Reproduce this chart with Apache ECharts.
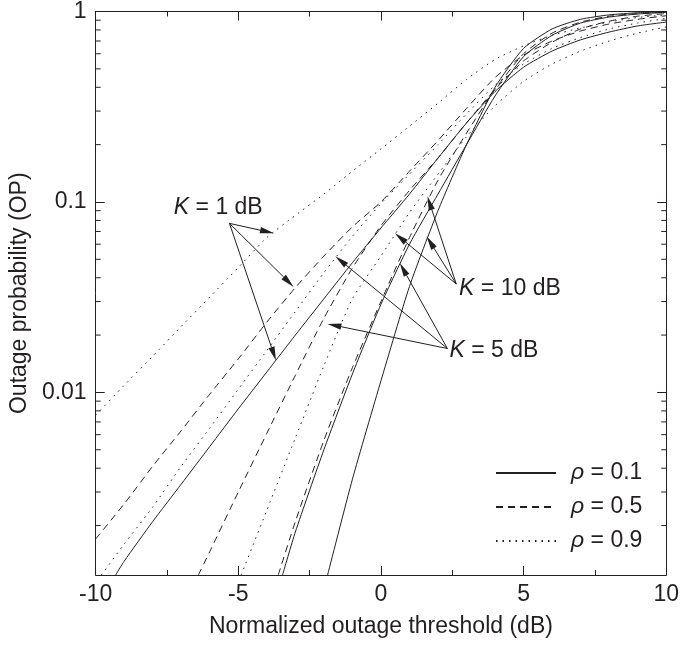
<!DOCTYPE html>
<html>
<head>
<meta charset="utf-8">
<script src="https://cdn.jsdelivr.net/npm/echarts@6/dist/echarts.min.js"></script>
<style>
html, body { margin: 0; padding: 0; background: #fff; }
#main { width: 682px; height: 648px; }
</style>
</head>
<body>
<div id="main"></div>
<script>
"use strict";

// K = 1 dB
var k1r09X = [-10, -9, -8, -7, -6, -5, -4, -3, -2, -1, 0, 1, 2, 3, 4, 5, 6, 7, 8, 9, 10];
var k1r09P = [0.0076, 0.0109, 0.0155, 0.0222, 0.0317, 0.0453, 0.065, 0.085, 0.11, 0.145, 0.19, 0.25, 0.33, 0.44, 0.56, 0.66, 0.75, 0.82, 0.88, 0.93, 0.96];
var k1r05X = [-10, -9, -8, -7, -6, -5, -4, -3, -2, -1, 0, 1, 2, 3, 4, 5, 6, 7, 8, 9, 10];
var k1r05P = [0.0017, 0.0026, 0.0041, 0.0063, 0.0098, 0.015, 0.0234, 0.0355, 0.052, 0.074, 0.10, 0.145, 0.21, 0.31, 0.45, 0.59, 0.70, 0.79, 0.86, 0.91, 0.95];
var k1r01X = [-9.3, -9, -8, -7, -6, -5, -4, -3, -2, -1, 0, 1, 2, 3, 4, 5, 6, 7, 8, 9, 10];
var k1r01P = [0.0011, 0.0013, 0.0021, 0.0033, 0.0052, 0.0082, 0.0128, 0.020, 0.031, 0.048, 0.073, 0.11, 0.17, 0.26, 0.38, 0.51, 0.62, 0.71, 0.78, 0.84, 0.88];
// K = 5 dB
var k5r09X = [-9.8, -9, -8, -7, -6, -5, -4, -3, -2, -1, 0, 1, 2, 3, 4, 5, 6, 7, 8, 9, 10];
var k5r09P = [0.0011, 0.0016, 0.0025, 0.0041, 0.0065, 0.0104, 0.0166, 0.0266, 0.0425, 0.066, 0.098, 0.14, 0.20, 0.29, 0.41, 0.53, 0.64, 0.73, 0.81, 0.87, 0.92];
var k5r05X = [-6.4, -6, -5, -4, -3, -2, -1, 0, 1, 2, 3, 4, 5, 6, 7, 8, 9, 10];
var k5r05P = [0.0011, 0.00146, 0.0030, 0.0061, 0.0123, 0.0245, 0.045, 0.075, 0.115, 0.17, 0.26, 0.39, 0.55, 0.69, 0.81, 0.89, 0.945, 0.975];
var k5r01X = [-3.45, -3, -2, -1, 0, 1, 2, 3, 4, 5, 6, 7, 8, 9, 10];
var k5r01P = [0.0011, 0.00185, 0.0050, 0.0125, 0.029, 0.06, 0.11, 0.20, 0.36, 0.58, 0.75, 0.87, 0.935, 0.97, 0.99];
// K = 10 dB
var k10r09X = [-4.9, -4, -3, -2, -1, 0, 1, 2, 3, 4, 5, 6, 7, 8, 9, 10];
var k10r09P = [0.0011, 0.00241, 0.00577, 0.0138, 0.031, 0.052, 0.088, 0.14, 0.22, 0.32, 0.43, 0.53, 0.62, 0.70, 0.77, 0.83];
var k10r05X = [-3.6, -3, -2, -1, 0, 1, 2, 3, 4, 5, 6, 7, 8, 9, 10];
var k10r05P = [0.0011, 0.0021, 0.0056, 0.0135, 0.030, 0.065, 0.13, 0.23, 0.39, 0.60, 0.77, 0.88, 0.945, 0.975, 0.99];
var k10r01X = [-1.87, -1, 0, 1, 2, 3, 4, 5, 6, 7, 8, 9, 10];
var k10r01P = [0.0011, 0.0035, 0.0115, 0.036, 0.09, 0.20, 0.40, 0.64, 0.81, 0.91, 0.96, 0.985, 0.996];

var legendNames = ["\u03c1 = 0.1", "\u03c1 = 0.5", "\u03c1 = 0.9"];
var yMinor = [0.002, 0.003, 0.004, 0.005, 0.006, 0.007, 0.008, 0.009,
              0.02, 0.03, 0.04, 0.05, 0.06, 0.07, 0.08, 0.09,
              0.2, 0.3, 0.4, 0.5, 0.6, 0.7, 0.8, 0.9];

// annotation arrows: [fromX, fromP, toX, toP]
var arrowLines = [
    [-5.31, 0.0772, -3.75, 0.0685],
    [-5.31, 0.0772, -3.06, 0.0358],
    [-5.31, 0.0772, -3.68, 0.0147],
    [2.33, 0.0170, -1.875, 0.0229],
    [2.33, 0.0170, -1.60, 0.0519],
    [2.33, 0.0170, 0.66, 0.0478],
    [2.64, 0.0371, 0.49, 0.0685],
    [2.64, 0.0371, 1.60, 0.066],
    [2.64, 0.0371, 1.63, 0.107]
];
var noteTexts = ["{i|K} = 1 dB", "{i|K} = 5 dB", "{i|K} = 10 dB"];
var notePos = [[-7.26, 0.0936], [2.40, 0.01656], [2.74, 0.0349]];

var ink = "#231f20";
var fontFamily = "'Liberation Sans', Arial, sans-serif";
var fontSize = 23;
var dashOf = { solid: "solid", dashed: [7, 5], dotted: [1.5, 5] };

function curve(name, xs, ps, dash) {
    return {
        name: name,
        type: "line",
        data: xs.map(function(x, i) { return [x, ps[i]]; }),
        symbol: "none",
        smooth: 0.2,
        silent: true,
        lineStyle: { color: ink, width: 1, type: dashOf[dash] },
        itemStyle: { color: ink },
        z: 3
    };
}

var chart = echarts.init(document.getElementById("main"), null, { renderer: "canvas" });

var axisCommon = {
    axisLine: { show: true, onZero: false, lineStyle: { color: ink, width: 1 } },
    axisTick: { show: true, inside: true, length: 9, lineStyle: { color: ink } },
    splitLine: { show: false }
};

var option = {
    animation: false,
    backgroundColor: "#fff",
    textStyle: { fontFamily: fontFamily },
    grid: { left: 93, right: 13, top: 9, bottom: 73, containLabel: false },
    legend: {
        data: legendNames,
        orient: "vertical",
        left: 495,
        top: 461,
        padding: 0,
        itemWidth: 60,
        itemHeight: 14,
        itemGap: 10,
        selectedMode: false,
        itemStyle: { opacity: 0 },
        formatter: function(name) { return "{i|\u03c1}" + name.slice(1); },
        textStyle: {
            color: ink, fontSize: fontSize, fontFamily: fontFamily, lineHeight: 24, padding: [0, 0, 0, 10],
            rich: { i: { fontStyle: "italic", fontSize: fontSize, fontFamily: fontFamily, color: ink } }
        }
    },
    xAxis: [
        echarts.util.merge({
            type: "value", min: -10, max: 10, interval: 5, position: "bottom",
            name: "Normalized outage threshold (dB)", nameLocation: "middle", nameGap: 40,
            nameTextStyle: { color: ink, fontSize: fontSize, fontFamily: fontFamily },
            axisLabel: { color: ink, fontSize: fontSize, fontFamily: fontFamily, margin: 8 },
            minorTick: { show: true, splitNumber: 2, length: 5, lineStyle: { color: ink } }
        }, axisCommon),
        echarts.util.merge({
            type: "value", min: -10, max: 10, interval: 5, position: "top",
            axisLabel: { show: false },
            minorTick: { show: true, splitNumber: 2, length: 5, lineStyle: { color: ink } }
        }, axisCommon)
    ],
    yAxis: [
        echarts.util.merge({
            type: "log", logBase: 10, min: 0.0011, max: 1, position: "left",
            name: "Outage probability (OP)", nameLocation: "middle", nameGap: 60, nameRotate: 90,
            nameTextStyle: { color: ink, fontSize: fontSize, fontFamily: fontFamily },
            axisLabel: { color: ink, fontSize: fontSize, fontFamily: fontFamily, margin: 9, showMinLabel: false }
        }, axisCommon),
        echarts.util.merge({
            type: "log", logBase: 10, min: 0.0011, max: 1, position: "right",
            axisLabel: { show: false }
        }, axisCommon)
    ],
    series: [
        curve(legendNames[0], k1r01X, k1r01P, "solid"),
        curve(legendNames[1], k1r05X, k1r05P, "dashed"),
        curve(legendNames[2], k1r09X, k1r09P, "dotted"),
        curve(legendNames[0], k5r01X, k5r01P, "solid"),
        curve(legendNames[1], k5r05X, k5r05P, "dashed"),
        curve(legendNames[2], k5r09X, k5r09P, "dotted"),
        curve(legendNames[0], k10r01X, k10r01P, "solid"),
        curve(legendNames[1], k10r05X, k10r05P, "dashed"),
        curve(legendNames[2], k10r09X, k10r09P, "dotted"),
        {
            // minor ticks of the log axis, left and right frame
            type: "custom",
            silent: true,
            data: yMinor.map(function(v) { return [-10, v]; }),
            encode: { x: 0, y: 1 },
            clip: false,
            z: 4,
            renderItem: function(params, api) {
                var v = api.value(1);
                var l = api.coord([-10, v]);
                var r = api.coord([10, v]);
                return {
                    type: "group",
                    children: [
                        { type: "line", shape: { x1: l[0], y1: l[1], x2: l[0] + 5, y2: l[1] }, style: { stroke: ink, lineWidth: 1 } },
                        { type: "line", shape: { x1: r[0], y1: r[1], x2: r[0] - 5, y2: r[1] }, style: { stroke: ink, lineWidth: 1 } }
                    ]
                };
            }
        },
        {
            // arrows of the K annotations
            type: "custom",
            silent: true,
            data: arrowLines,
            encode: { x: [0, 2], y: [1, 3] },
            clip: false,
            z: 5,
            renderItem: function(params, api) {
                var a = api.coord([api.value(0), api.value(1)]);
                var b = api.coord([api.value(2), api.value(3)]);
                var dx = b[0] - a[0], dy = b[1] - a[1];
                var len = Math.sqrt(dx * dx + dy * dy);
                var ux = dx / len, uy = dy / len;
                var hl = 14, hw = 3.2;
                var bx = b[0] - ux * hl, by = b[1] - uy * hl;
                return {
                    type: "group",
                    children: [
                        { type: "line", shape: { x1: a[0], y1: a[1], x2: bx, y2: by }, style: { stroke: ink, lineWidth: 1 } },
                        { type: "polygon", shape: { points: [[b[0], b[1]], [bx - uy * hw, by + ux * hw], [bx + uy * hw, by - ux * hw]] }, style: { fill: ink } }
                    ]
                };
            }
        },
        {
            // annotation texts
            type: "custom",
            silent: true,
            data: notePos,
            encode: { x: 0, y: 1 },
            clip: false,
            z: 6,
            renderItem: function(params, api) {
                var p = api.coord([api.value(0), api.value(1)]);
                return {
                    type: "text",
                    x: p[0],
                    y: p[1],
                    style: {
                        text: noteTexts[params.dataIndex],
                        fill: ink,
                        fontSize: fontSize,
                        fontFamily: fontFamily,
                        align: "left",
                        verticalAlign: "middle",
                        rich: { i: { fontStyle: "italic", fontSize: fontSize, fontFamily: fontFamily, fill: ink } }
                    }
                };
            }
        }
    ]
};

chart.setOption(option);
</script>
</body>
</html>
